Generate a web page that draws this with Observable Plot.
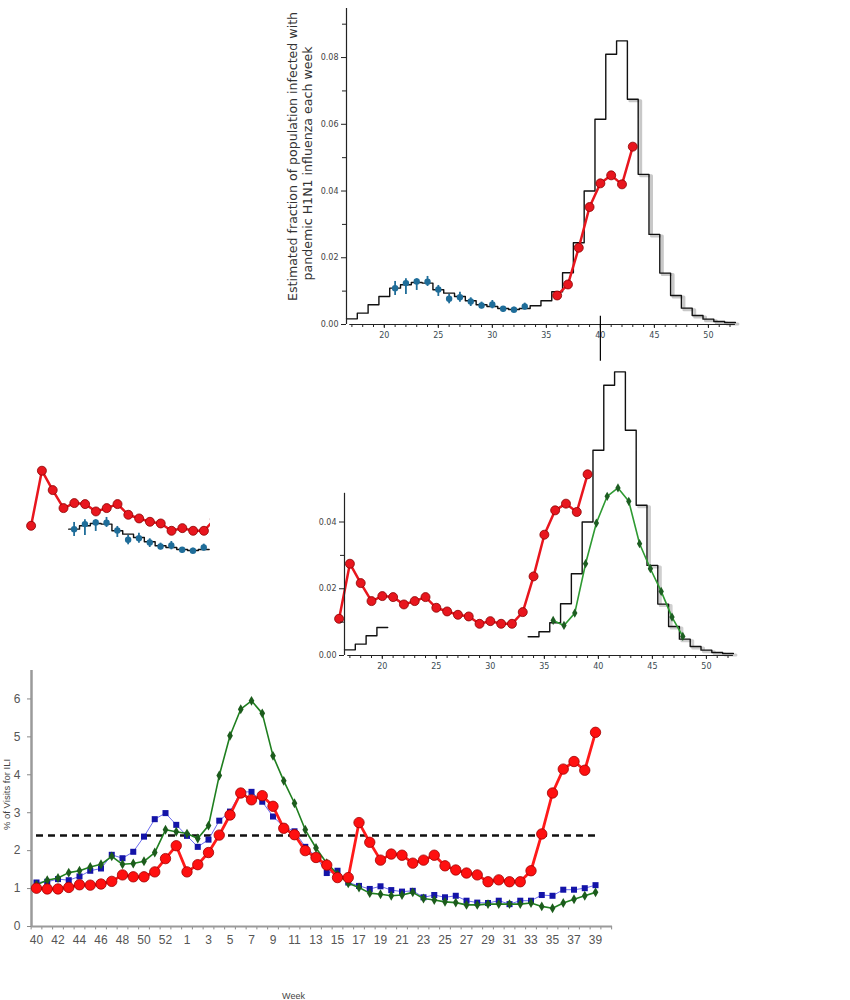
<!DOCTYPE html>
<html><head><meta charset="utf-8">
<script src="https://cdn.jsdelivr.net/npm/d3@7"></script>
<script src="https://cdn.jsdelivr.net/npm/@observablehq/plot@0.6"></script>
<style>
body{margin:0;background:#fff;}
#page{position:relative;width:850px;height:1000px;overflow:hidden;background:#fff;}
.clip{position:absolute;overflow:hidden;}
</style></head><body><div id="page"></div>
<script>
// ---------- Data: modelled weekly infection fraction (histogram), weeks 17-52 ----------
const histWeeks = [17,18,19,20,21,22,23,24,25,26,27,28,29,30,31,32,33,34,35,36,37,38,39,40,41,42,43,44,45,46,47,48,49,50,51,52];
const histValues = [0.0017,0.0034,0.0059,0.0084,0.0109,0.0119,0.0126,0.0124,0.0104,0.0094,0.0084,0.0071,0.0059,0.0054,0.0048,0.0045,0.0048,0.0056,0.0071,0.0098,0.0155,0.0245,0.0400,0.0615,0.0810,0.0850,0.0675,0.0450,0.0270,0.0154,0.0087,0.0049,0.0027,0.0016,0.0009,0.0006];

// blue estimates with error bars (top panel)
const blueWeeks = [21,22,23,24,25,26,27,28,29,30,31,32,33];
const blueValues = [0.0109,0.0124,0.0129,0.0128,0.0105,0.0077,0.0082,0.0069,0.0057,0.0060,0.0047,0.0044,0.0054];
const blueHigh = [0.0129,0.0137,0.0137,0.0144,0.0117,0.0090,0.0097,0.0080,0.0067,0.0072,0.0054,0.0052,0.0064];
const blueLow = [0.0087,0.0090,0.0102,0.0114,0.0084,0.0062,0.0067,0.0054,0.0047,0.0047,0.0037,0.0037,0.0044];

// red series, top panel
const redAWeeks = [36,37,38,39,40,41,42,43];
const redAValues = [0.0087,0.0120,0.0230,0.0352,0.0423,0.0447,0.0420,0.0533];

// red series, middle panel
const redBWeeks = [16,17,18,19,20,21,22,23,24,25,26,27,28,29,30,31,32,33,34,35,36,37,38,39];
const redBValues = [0.0110,0.0275,0.0217,0.0163,0.0178,0.0175,0.0153,0.0163,0.0175,0.0143,0.0132,0.0122,0.0117,0.0095,0.0103,0.0095,0.0095,0.0130,0.0237,0.0362,0.0435,0.0455,0.0430,0.0543];

// green series, middle panel
const greenBWeeks = [36,37,38,39,40,41,42,43,44,45,46,47,48];
const greenBValues = [0.0105,0.0090,0.0127,0.0275,0.0397,0.0477,0.0502,0.0462,0.0335,0.0260,0.0192,0.0115,0.0057];

const cursorWeek = [40];
const yTicksA = [0, 0.02, 0.04, 0.06, 0.08];
const yMinorA = [0.01, 0.03, 0.05, 0.07, 0.09];
const yTicksB = [0, 0.02, 0.04];
const yMinorB = [0.01, 0.03];
const xTicksAB = [20, 25, 30, 35, 40, 45, 50];
const yLabel1 = "Estimated fraction of population infected with";
const yLabel2 = "pandemic H1N1 influenza each week";

// ---------- Data: % of visits for ILI (bottom chart) ----------
const iliWeeks = [40,41,42,43,44,45,46,47,48,49,50,51,52,53,1,2,3,4,5,6,7,8,9,10,11,12,13,14,15,16,17,18,19,20,21,22,23,24,25,26,27,28,29,30,31,32,33,34,35,36,37,38,39];
const iliRed = [1.01,0.99,0.99,1.03,1.10,1.09,1.12,1.19,1.36,1.31,1.31,1.44,1.79,2.13,1.44,1.63,1.95,2.41,2.94,3.52,3.34,3.45,3.17,2.59,2.42,2.00,1.82,1.62,1.29,1.29,2.74,2.22,1.75,1.91,1.88,1.67,1.75,1.88,1.60,1.49,1.41,1.36,1.18,1.23,1.18,1.18,1.47,2.44,3.52,4.15,4.35,4.12,5.12];
const iliBlue = [1.16,1.18,1.25,1.22,1.32,1.47,1.53,1.89,1.80,1.97,2.37,2.83,2.99,2.68,2.39,2.10,2.29,2.79,3.03,3.55,3.55,3.29,2.90,2.63,2.51,2.10,1.85,1.41,1.47,1.16,1.07,0.99,1.06,0.96,0.92,0.94,0.77,0.83,0.77,0.81,0.68,0.63,0.62,0.68,0.59,0.68,0.68,0.83,0.81,0.97,0.97,1.01,1.09];
const iliGreen = [1.10,1.22,1.28,1.42,1.47,1.57,1.64,1.85,1.64,1.66,1.72,1.95,2.55,2.50,2.45,2.32,2.66,3.98,5.03,5.73,5.95,5.62,4.50,3.84,3.25,2.55,2.07,1.67,1.38,1.14,1.03,0.88,0.85,0.81,0.83,0.90,0.74,0.70,0.65,0.63,0.57,0.57,0.59,0.59,0.59,0.59,0.62,0.53,0.48,0.62,0.72,0.81,0.90];
const iliBaseline = [2.4];
const iliYTicks = [0,1,2,3,4,5,6];
const iliYLabel = "% of Visits for ILI";
const iliXLabel = "Week";

// ---------- helpers ----------
const page = document.getElementById("page");
function place(svg, left, top, parent) {
  svg.style.position = "absolute";
  svg.style.left = left + "px";
  svg.style.top = top + "px";
  svg.style.maxWidth = "none";
  svg.style.background = "transparent";
  svg.style.overflow = "visible";
  (parent || page).appendChild(svg);
}
function clipBox(left, top, w, h) {
  const d = document.createElement("div");
  d.className = "clip";
  d.style.left = left + "px"; d.style.top = top + "px";
  d.style.width = w + "px"; d.style.height = h + "px";
  page.appendChild(d);
  return d;
}
const histPts = (keep) => histWeeks.flatMap((w, i) => keep(w)
  ? [{x: w - 0.5, y: histValues[i], w}, {x: w + 0.5, y: histValues[i], w}] : []);
const blue = blueWeeks.map((w, i) => ({w, v: blueValues[i], lo: blueLow[i], hi: blueHigh[i]}));
const redA = redAWeeks.map((w, i) => ({w, v: redAValues[i]}));
const redB = redBWeeks.map((w, i) => ({w, v: redBValues[i]}));
const greenB = greenBWeeks.map((w, i) => ({w, v: greenBValues[i]}));

const RED = "#e8161e", RED_EDGE = "#8a0000", BLUE = "#1f6d99", GREEN = "#2e9a32", GREEN_DOT = "#1d5e22";
const xDomAB = [16.5, 52.6];
const yDomA = [0, 0.0947];
const yDomB = [0, 0.0854];
const fontAB = {fontFamily: "DejaVu Sans", fontSize: "8px", color: "#3a4a52"};
const centred = {textAnchor: "middle", lineAnchor: "middle", frameAnchor: "top-left"};

function axesAB(yTicks, yMinor, yTop) {
  return [
    Plot.ruleX([xDomAB[0]], {y1: 0, y2: yTop, stroke: "#222", strokeWidth: 1.2}),
    Plot.ruleY([0], {x1: histWeeks[0] - 0.2, x2: histWeeks[histWeeks.length - 1] + 0.5, stroke: "#222", strokeWidth: 1.2}),
    Plot.axisX({ticks: histWeeks, tickSize: 3, tickFormat: () => "", stroke: "#222", label: null}),
    Plot.axisX({ticks: xTicksAB, tickSize: 4, tickPadding: 4, stroke: "#222", fill: "#3a4a52", label: null}),
    Plot.axisY({ticks: yTicks, tickFormat: d3.format(".2f"), tickSize: 5, tickPadding: 3, stroke: "#222", fill: "#444", label: null}),
    Plot.axisY({ticks: yMinor, tickSize: 4, tickFormat: () => "", stroke: "#222", label: null})
  ];
}

// ---------- Panel A (top) ----------
const optsA = {
  width: 470, height: 370, marginLeft: 66, marginRight: 14, marginTop: 8, marginBottom: 46,
  x: {domain: xDomAB, label: null}, y: {domain: yDomA, label: null},
  style: fontAB
};
const plotA = Plot.plot({
  ...optsA,
  marks: [
    Plot.line(histPts(w => w >= 43), {x: "x", y: "y", dx: 2.5, dy: 1.5, stroke: "#c8c8c8", strokeWidth: 3}),
    Plot.line(histPts(() => true), {x: "x", y: "y", stroke: "#111", strokeWidth: 1.4}),
    Plot.ruleX(blue, {x: "w", y1: "lo", y2: "hi", stroke: BLUE, strokeWidth: 1.8}),
    Plot.dot(blue, {x: "w", y: "v", r: 3.2, fill: BLUE}),
    Plot.line(redA, {x: "w", y: "v", stroke: RED, strokeWidth: 2.5}),
    Plot.dot(redA, {x: "w", y: "v", r: 4.5, fill: RED, stroke: RED_EDGE, strokeWidth: 0.8}),
    ...axesAB(yTicksA, yMinorA, yDomA[1]),
    Plot.ruleX(cursorWeek, {y1: 0.0025, y2: -0.011, stroke: "#000", strokeWidth: 1.2}),
    Plot.text([yLabel1], {text: d => d, ...centred, rotate: -90, dx: -54, dy: 148, fontSize: 12.6, fill: "#333", fontFamily: "DejaVu Sans"}),
    Plot.text([yLabel2], {text: d => d, ...centred, rotate: -90, dx: -39, dy: 155, fontSize: 12.6, fill: "#333", fontFamily: "DejaVu Sans"})
  ]
});
place(plotA, 280, 0);

// ---------- Panel B (middle) ----------
const optsB = {
  width: 470, height: 320, marginLeft: 66, marginRight: 14, marginTop: 10, marginBottom: 25,
  x: {domain: xDomAB, label: null}, y: {domain: yDomB, label: null},
  style: fontAB
};
const plotB = Plot.plot({
  ...optsB,
  marks: [
    Plot.line(histPts(w => w >= 44), {x: "x", y: "y", dx: 2.5, dy: 1.5, stroke: "#cfcfcf", strokeWidth: 3}),
    Plot.line(histPts(w => w <= 20 || w >= 34), {x: "x", y: "y", z: d => d.w <= 20 ? "L" : "R", stroke: "#111", strokeWidth: 1.4}),
    Plot.line(greenB, {x: "w", y: "v", dx: -2, stroke: GREEN, strokeWidth: 1.6}),
    Plot.dot(greenB, {x: "w", y: "v", dx: -2, r: 2.8, symbol: "diamond", fill: GREEN_DOT}),
    Plot.line(redB, {x: "w", y: "v", stroke: RED, strokeWidth: 2.5}),
    Plot.dot(redB, {x: "w", y: "v", r: 4.5, fill: RED, stroke: RED_EDGE, strokeWidth: 0.8}),
    ...axesAB(yTicksB, yMinorB, 0.0486)
  ]
});
place(plotB, 278, 360);

// ---------- Left fragment: cropped copies of the red (middle) and blue (top) series ----------
const fragRed = Plot.plot({
  ...optsB, x: {domain: xDomAB, axis: null}, y: {domain: yDomB, axis: null},
  marks: [
    Plot.line(redB, {x: "w", y: "v", stroke: RED, strokeWidth: 2.5}),
    Plot.dot(redB, {x: "w", y: "v", r: 4.5, fill: RED, stroke: RED_EDGE, strokeWidth: 0.8})
  ]
});
place(fragRed, -48.5, -188, clipBox(18, 455, 192, 90));

const fragBlue = Plot.plot({
  ...optsA, x: {domain: xDomAB, axis: null}, y: {domain: yDomA, axis: null},
  marks: [
    Plot.line(histPts(w => w >= 21 && w <= 33), {x: "x", y: "y", stroke: "#111", strokeWidth: 1.4}),
    Plot.ruleX(blue, {x: "w", y1: "lo", y2: "hi", stroke: BLUE, strokeWidth: 1.8}),
    Plot.dot(blue, {x: "w", y: "v", r: 3.2, fill: BLUE})
  ]
});
place(fragBlue, -108.5, -264, clipBox(67, 505, 145, 55));

// ---------- Panel C (bottom ILI chart) ----------
const ili = iliWeeks.map((w, i) => ({i, w, red: iliRed[i], blue: iliBlue[i], green: iliGreen[i]}));
const xDomC = [-0.465, 53.58];
const yDomC = [0, 6.75];
const boundaries = d3.range(0, iliWeeks.length + 2).map(k => k - 0.5);
const plotC = Plot.plot({
  width: 620, height: 340, marginLeft: 31, marginRight: 8, marginTop: 10, marginBottom: 74,
  x: {domain: xDomC, label: null}, y: {domain: yDomC, label: null},
  style: {fontFamily: "Liberation Sans, Arial, sans-serif", fontSize: "12px", color: "#555"},
  marks: [
    Plot.ruleX(boundaries, {x: d => d, y1: 0, y2: -0.09, stroke: "#888", strokeWidth: 1}),
    Plot.ruleY([0], {stroke: "#9a9a9a", strokeWidth: 2}),
    Plot.ruleX([xDomC[0]], {y1: 0, y2: yDomC[1], stroke: "#9a9a9a", strokeWidth: 2.5}),
    Plot.axisX({ticks: ili.filter(d => d.i % 2 === 0).map(d => d.i), tickFormat: i => String(iliWeeks[i]), tickSize: 0, tickPadding: 9, fontSize: 12, fill: "#555", label: null}),
    Plot.axisY({ticks: iliYTicks, tickFormat: d => String(d), tickSize: 4, tickPadding: 7, fontSize: 12, fill: "#555", stroke: "#888", label: null}),
    Plot.ruleY(iliBaseline, {x1: 0, x2: iliWeeks.length - 1, stroke: "#111", strokeWidth: 2.5, strokeDasharray: "7,5"}),
    Plot.line(ili, {x: "i", y: "blue", stroke: "#6b6bf0", strokeWidth: 1}),
    Plot.dot(ili, {x: "i", y: "blue", symbol: "square", r: 3.4, fill: "#1414a8"}),
    Plot.line(ili, {x: "i", y: "green", stroke: "#1f7f1f", strokeWidth: 1.6}),
    Plot.dot(ili, {x: "i", y: "green", symbol: "diamond", r: 3, fill: "#1c5c1c"}),
    Plot.line(ili, {x: "i", y: "red", stroke: "#ff1a1a", strokeWidth: 2.8}),
    Plot.dot(ili, {x: "i", y: "red", r: 5.2, fill: "#ff1010", stroke: "#a00000", strokeWidth: 0.8}),
    Plot.text([iliYLabel], {text: d => d, ...centred, rotate: -90, dx: -25, dy: 124, fontSize: 9.5, fill: "#444"}),
    Plot.text([iliXLabel], {text: d => d, ...centred, dx: 262, dy: 326, fontSize: 9, fill: "#444"})
  ]
});
place(plotC, 0, 660);
</script></body></html>
